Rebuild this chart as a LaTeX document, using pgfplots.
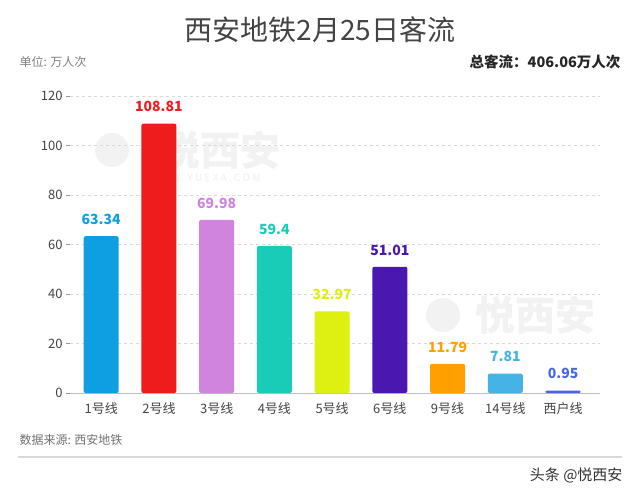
\documentclass[border=0pt]{standalone}
\usepackage{fontspec}
\setmainfont{Noto Sans CJK SC}
\usepackage{pgfplots}
\pgfplotsset{compat=1.18}
\definecolor{c1}{HTML}{0E9FE3}
\definecolor{c2}{HTML}{EE1C1C}
\definecolor{c3}{HTML}{D084DE}
\definecolor{c4}{HTML}{19CCB8}
\definecolor{c5}{HTML}{DDF00F}
\definecolor{c6}{HTML}{4A17B0}
\definecolor{c7}{HTML}{FF9F00}
\definecolor{c8}{HTML}{45B3E6}
\definecolor{c9}{HTML}{4A66E8}
\definecolor{txt}{HTML}{444444}
\begin{document}
\begin{tikzpicture}
\useasboundingbox (0pt,0pt) rectangle (640pt,496pt);
\fill[white] (0pt,0pt) rectangle (640pt,496pt);
\node[font=\fontsize{28}{30}\selectfont, text=txt] at (320pt,466pt) {西安地铁2月25日客流};
\node[anchor=west, font=\fontsize{12}{14}\selectfont, text=black!50] at (16pt,434pt) {单位: 万人次};
\node[anchor=east, font=\bfseries\fontsize{14.5}{16}\selectfont, text=black!85] at (624pt,434pt) {总客流：406.06万人次};
% watermarks
\fill[black!5] (112pt,346pt) circle (17pt);
\node[font=\bfseries\fontsize{40}{42}\selectfont, text=black!5] at (220pt,346pt) {悦西安};
\node[font=\fontsize{10}{12}\selectfont, text=black!6] at (205pt,318pt) {W W W . Y U E X A . C O M};
\fill[black!5] (443pt,181pt) circle (17pt);
\node[font=\bfseries\fontsize{40}{42}\selectfont, text=black!5] at (535pt,181pt) {悦西安};
\begin{axis}[
  at={(70pt,103pt)}, anchor=south west,
  scale only axis, width=530pt, height=297pt,
  xmin=-0.54, xmax=8.64, ymin=0, ymax=120,
  ytick={0,20,...,120},
  xtick={0,...,8},
  xticklabels={1号线,2号线,3号线,4号线,5号线,6号线,9号线,14号线,西户线},
  ymajorgrids, grid style={dashed, black!15},
  axis line style={draw=none},
  tick align=outside, major tick length=4pt,
  ytick pos=left, xtick style={draw=none}, ytick style={black!40},
  ticklabel style={font=\fontsize{13}{15}\selectfont, text=txt},
  xticklabel style={yshift=-2pt},
  /pgf/number format/assume math mode=true,
  ybar, bar width=35pt, bar shift=0pt,
  nodes near coords,
  nodes near coords style={font=\bfseries\fontsize{14}{16}\selectfont, anchor=south, yshift=8pt},
  clip=false,
]
\draw[black!25, line width=1pt] (axis cs:-0.54,0) -- (axis cs:8.64,0);
\addplot[fill=c1, draw=none, rounded corners=2pt, every node near coord/.append style={text=c1}] coordinates {(0,63.34)};
\addplot[fill=c2, draw=none, rounded corners=2pt, every node near coord/.append style={text=c2}] coordinates {(1,108.81)};
\addplot[fill=c3, draw=none, rounded corners=2pt, every node near coord/.append style={text=c3}] coordinates {(2,69.98)};
\addplot[fill=c4, draw=none, rounded corners=2pt, every node near coord/.append style={text=c4}] coordinates {(3,59.4)};
\addplot[fill=c5, draw=none, rounded corners=2pt, every node near coord/.append style={text=c5}] coordinates {(4,32.97)};
\addplot[fill=c6, draw=none, rounded corners=2pt, every node near coord/.append style={text=c6}] coordinates {(5,51.01)};
\addplot[fill=c7, draw=none, rounded corners=2pt, every node near coord/.append style={text=c7}] coordinates {(6,11.79)};
\addplot[fill=c8, draw=none, rounded corners=2pt, every node near coord/.append style={text=c8}] coordinates {(7,7.81)};
\addplot[fill=c9, draw=none, rounded corners=1pt, every node near coord/.append style={text=c9}] coordinates {(8,0.95)};
\end{axis}
\node[anchor=west, font=\fontsize{12}{14}\selectfont, text=black!55] at (16pt,56pt) {数据来源: 西安地铁};
\draw[black!15, line width=1.5pt] (18pt,39pt) -- (622pt,39pt);
\node[anchor=east, font=\fontsize{15}{17}\selectfont, text=black!80] at (626pt,21pt) {头条 @悦西安};
\end{tikzpicture}
\end{document}
